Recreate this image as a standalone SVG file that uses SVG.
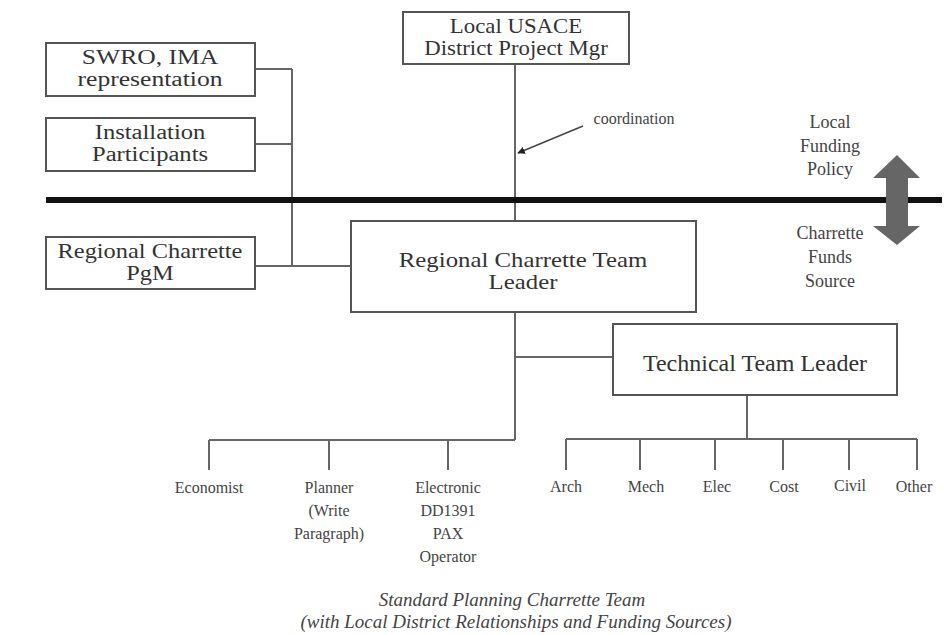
<svg xmlns="http://www.w3.org/2000/svg" width="950" height="635" viewBox="0 0 950 635">
<style>
.box{fill:#fff;stroke:#555;stroke-width:2}
.ln{fill:none;stroke:#666;stroke-width:2}
.t{font-family:"Liberation Serif","Times New Roman",serif;font-size:20px;fill:#333;text-anchor:middle}
.tl{font-family:"Liberation Serif","Times New Roman",serif;font-size:24px;fill:#333;text-anchor:middle}
.s{font-family:"Liberation Serif","Times New Roman",serif;font-size:16px;fill:#444;text-anchor:middle}
.f{font-family:"Liberation Serif","Times New Roman",serif;font-size:18px;fill:#444;text-anchor:middle}
.c{font-family:"Liberation Serif","Times New Roman",serif;font-size:19px;font-style:italic;fill:#444;text-anchor:middle}
</style>
<defs>
<marker id="ah" viewBox="0 0 10 10" refX="9" refY="5" markerWidth="5" markerHeight="5" orient="auto">
<path d="M0,0 L10,5 L0,10 z" fill="#222"/>
</marker>
</defs>
<g id="connectors">
<path class="ln" d="M255,69 H292 M255,144 H292 M255,266 H351 M292,69 V266"/>
<path class="ln" d="M515,64 V221"/>
<path class="ln" d="M515,312 V440 M515,357 H613 M209,440 H515 M209,440 V470 M329,440 V470 M448,440 V470"/>
<path class="ln" d="M747,395 V439 M566,439 H917 M566,439 V470 M640,439 V470 M715,439 V470 M783,439 V470 M849,439 V470 M917,439 V470"/>
<line x1="583" y1="126" x2="518" y2="153" stroke="#444" stroke-width="1.5" marker-end="url(#ah)"/>
</g>
<line id="divider" x1="46" y1="200" x2="942" y2="200" stroke="#111" stroke-width="6"/>
<g id="swro"><rect class="box" x="46" y="43" width="209" height="53"/><text class="t" transform="matrix(1.28 0 0 1 150 0)" x="0" y="64">SWRO, IMA</text><text class="t" transform="matrix(1.28 0 0 1 150 0)" x="0" y="86">representation</text></g>
<g id="installation"><rect class="box" x="46" y="118" width="209" height="53"/><text class="t" transform="matrix(1.23 0 0 1 150 0)" x="0" y="139">Installation</text><text class="t" transform="matrix(1.23 0 0 1 150 0)" x="0" y="161">Participants</text></g>
<g id="pgm"><rect class="box" x="46" y="237" width="209" height="52"/><text class="t" transform="matrix(1.22 0 0 1 150 0)" x="0" y="258">Regional Charrette</text><text class="t" transform="matrix(1.22 0 0 1 150 0)" x="0" y="280">PgM</text></g>
<g id="usace"><rect class="box" x="403" y="12" width="226" height="52"/><text class="t" transform="matrix(1.14 0 0 1 516 0)" x="0" y="33">Local USACE</text><text class="t" transform="matrix(1.14 0 0 1 516 0)" x="0" y="55">District Project Mgr</text></g>
<g id="team-leader"><rect class="box" x="351" y="221" width="345" height="91"/><text class="t" transform="matrix(1.24 0 0 1 523 0)" x="0" y="267">Regional Charrette Team</text><text class="t" transform="matrix(1.24 0 0 1 523 0)" x="0" y="289">Leader</text></g>
<g id="tech-leader"><rect class="box" x="613" y="324" width="284" height="71"/><text class="tl" x="755" y="371">Technical Team Leader</text></g>
<g id="coordination"><text class="s" x="634" y="124">coordination</text></g>
<g id="funding">
<polygon points="897,155 920,178 908,178 908,226 920,226 897,245 873,226 886,226 886,178 873,178" fill="#666"/>
<text class="f" x="830" y="128">Local</text><text class="f" x="830" y="152">Funding</text><text class="f" x="830" y="175">Policy</text>
<text class="f" x="830" y="239">Charrette</text><text class="f" x="830" y="263">Funds</text><text class="f" x="830" y="287">Source</text>
</g>
<g id="economist"><text class="s" x="209" y="493">Economist</text></g>
<g id="planner"><text class="s" x="329" y="493">Planner</text><text class="s" x="329" y="516">(Write</text><text class="s" x="329" y="539">Paragraph)</text></g>
<g id="electronic"><text class="s" x="448" y="493">Electronic</text><text class="s" x="448" y="516">DD1391</text><text class="s" x="448" y="539">PAX</text><text class="s" x="448" y="562">Operator</text></g>
<g id="arch"><text class="s" x="566" y="492">Arch</text></g>
<g id="mech"><text class="s" x="646" y="492">Mech</text></g>
<g id="elec"><text class="s" x="717" y="492">Elec</text></g>
<g id="cost"><text class="s" x="784" y="492">Cost</text></g>
<g id="civil"><text class="s" x="850" y="491">Civil</text></g>
<g id="other"><text class="s" x="914" y="492">Other</text></g>
<g id="caption"><text class="c" x="512" y="606">Standard Planning Charrette Team</text><text class="c" x="516" y="628">(with Local District Relationships and Funding Sources)</text></g>
</svg>
